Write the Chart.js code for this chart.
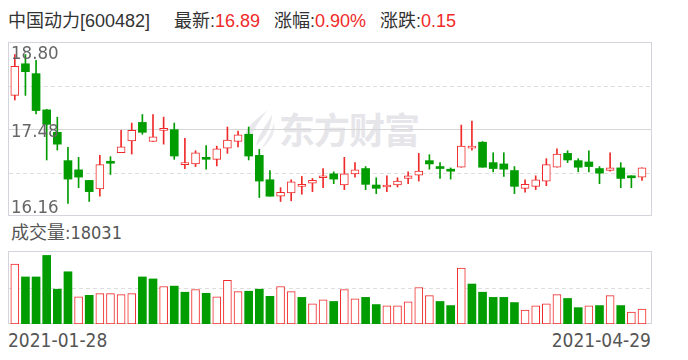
<!DOCTYPE html>
<html><head><meta charset="utf-8">
<script src="https://cdn.jsdelivr.net/npm/chart.js@4.4.1/dist/chart.umd.min.js"></script>
<style>
html,body{margin:0;padding:0;background:#fff;width:688px;height:360px;overflow:hidden;}
#wrap{position:relative;width:688px;height:360px;}
.abs{position:absolute;white-space:nowrap;}
.t{top:9px;line-height:24px;font-size:18px;font-family:"Liberation Sans","Noto Sans CJK SC",sans-serif;color:#333;}
.red{color:#f02a2a;}
#wm{left:279px;top:109px;line-height:38px;font-size:36px;font-weight:bold;font-family:"Noto Sans CJK SC",sans-serif;color:#e6e6ea;letter-spacing:-1px;}
#logo{left:238px;top:108px;}
#vol{left:11px;top:222px;line-height:22px;font-size:18px;font-family:"DejaVu Sans Condensed","DejaVu Sans","Noto Sans CJK SC",sans-serif;font-stretch:condensed;color:#555;}
.date{top:329px;line-height:22px;font-size:19px;font-family:"DejaVu Sans Condensed","DejaVu Sans",sans-serif;font-stretch:condensed;color:#555;}
canvas{position:absolute;left:0;}
</style></head>
<body><div id="wrap">
<svg class="abs" id="logo" width="40" height="42" viewBox="0 0 40 42">
  <path d="M30 2 C22 8 8 18 6 30 C5 36 8 40 12 40 C10 30 18 16 30 2 Z" fill="#e8e8ec"/>
  <path d="M34 6 C30 16 20 26 18 38 C24 32 34 22 34 6 Z" fill="#e8e8ec"/>
  <path d="M36 14 C34 24 28 32 24 40 C32 34 38 26 36 14 Z" fill="#ececf0"/>
</svg>
<div class="abs" id="wm">东方财富</div>
<div class="abs t" style="left:8px" id="name"></div>
<div class="abs t" style="left:174px">最新:<span class="red" id="last"></span></div>
<div class="abs t" style="left:274px">涨幅:<span class="red" id="pct"></span></div>
<div class="abs t" style="left:380px">涨跌:<span class="red" id="chg"></span></div>
<div class="abs" id="vol"></div>
<div class="abs date" id="d0" style="left:8px"></div>
<div class="abs date" id="d1" style="right:37px"></div>
<canvas id="pc" width="688" height="222" style="top:0"></canvas>
<canvas id="vc" width="688" height="90" style="top:240px"></canvas>
</div>
<script>
const stockName = "中国动力";
const stockCode = "600482";
const dates = ["2021-01-28","2021-01-29","2021-02-01","2021-02-02","2021-02-03","2021-02-04","2021-02-05","2021-02-08","2021-02-09","2021-02-10",
"2021-02-18","2021-02-19","2021-02-22","2021-02-23","2021-02-24","2021-02-25","2021-02-26","2021-03-01","2021-03-02","2021-03-03",
"2021-03-04","2021-03-05","2021-03-08","2021-03-09","2021-03-10","2021-03-11","2021-03-12","2021-03-15","2021-03-16","2021-03-17",
"2021-03-18","2021-03-19","2021-03-22","2021-03-23","2021-03-24","2021-03-25","2021-03-26","2021-03-29","2021-03-30","2021-03-31",
"2021-04-01","2021-04-02","2021-04-06","2021-04-07","2021-04-08","2021-04-09","2021-04-12","2021-04-13","2021-04-14","2021-04-15",
"2021-04-16","2021-04-19","2021-04-20","2021-04-21","2021-04-22","2021-04-23","2021-04-26","2021-04-27","2021-04-28","2021-04-29"];
const openP  = [17.99,18.47,18.32,17.77,17.43,17.00,16.86,16.70,16.57,16.97,17.12,17.30,17.58,17.29,17.46,17.47,16.94,16.95,17.05,17.02,
17.19,17.29,17.40,17.08,16.71,16.46,16.51,16.61,16.66,16.74,16.80,16.63,16.80,16.88,16.63,16.60,16.63,16.73,16.78,17.00,
16.89,16.85,16.90,17.19,17.28,16.97,16.95,16.85,16.58,16.61,16.69,16.90,17.11,17.00,16.98,16.88,16.85,16.89,16.75,16.75];
const highP  = [18.61,18.61,18.52,17.78,17.66,17.20,17.05,16.70,17.08,17.06,17.46,17.57,17.70,17.70,17.66,17.57,17.34,17.15,17.23,17.22,
17.51,17.45,17.51,17.17,16.85,16.59,16.71,16.76,16.73,16.88,16.83,17.05,16.97,16.91,16.74,16.77,16.74,16.83,17.11,17.09,
16.97,16.89,17.54,17.60,17.29,17.12,17.12,16.91,16.71,16.77,17.03,17.18,17.15,17.03,17.15,16.91,17.12,16.97,16.77,16.89];
const lowP   = [17.92,17.99,17.71,17.01,17.16,16.35,16.59,16.38,16.46,16.79,17.12,17.10,17.40,17.29,17.25,17.02,16.88,16.91,16.87,16.92,
17.11,17.21,17.01,16.44,16.46,16.38,16.39,16.49,16.53,16.59,16.65,16.56,16.75,16.56,16.50,16.53,16.60,16.65,16.69,16.87,
16.73,16.72,16.90,17.16,16.90,16.83,16.76,16.50,16.52,16.56,16.62,16.90,16.97,16.83,16.83,16.65,16.84,16.59,16.59,16.70];
const closeP = [18.43,18.35,17.76,17.55,17.25,16.72,16.75,16.53,16.94,16.96,17.21,17.46,17.43,17.36,17.47,17.07,16.96,17.12,17.02,17.18,
17.31,17.39,17.07,16.69,16.46,16.52,16.68,16.62,16.70,16.75,16.72,16.80,16.86,16.64,16.58,16.61,16.69,16.77,16.84,16.95,
16.88,16.84,17.22,17.21,16.90,16.88,16.87,16.61,16.64,16.71,16.94,17.10,17.01,16.90,16.91,16.81,16.89,16.73,16.74,16.89];
const volume = [71900,56400,56400,82200,41700,62600,32700,34400,36400,36400,35200,36400,56400,54000,45000,45400,38100,41300,36800,32700,
52300,38900,39300,41700,33200,45000,38900,31900,24200,29100,27000,41300,30300,31900,23300,21700,21700,26600,43800,34000,
27000,22100,67000,47900,38100,31900,31900,25700,16800,21700,24200,35200,30600,19600,21700,22100,34000,22100,14400,18031];
const priceTicks = [16.16, 16.82, 17.48, 18.14, 18.80];
const priceLabels = ["16.16", "17.48", "18.80"];
const volumeMax = 87500;

const RED = '#f02a2a', GREEN = '#009c00';
const idx = dates.map((d, i) => i + 1);
const candleUp = closeP.map((c, i) => c > openP[i] || (c === openP[i] && i > 0 && c >= closeP[i - 1]));
const volUp = closeP.map((c, i) => i === 0 ? c >= openP[i] : c >= closeP[i - 1]);

const n = closeP.length;
const chg = closeP[n - 1] - closeP[n - 2];
document.getElementById('name').textContent = stockName + '[' + stockCode + ']';
document.getElementById('last').textContent = closeP[n - 1].toFixed(2);
document.getElementById('chg').textContent = chg.toFixed(2);
document.getElementById('pct').textContent = (chg / closeP[n - 2] * 100).toFixed(2) + '%';
document.getElementById('vol').textContent = '成交量:' + volume[n - 1];
document.getElementById('d0').textContent = dates[0];
document.getElementById('d1').textContent = dates[n - 1];

const xScale = () => ({ type: 'linear', min: 0.36, max: 60.94, offset: false, display: false, grid: { offset: false } });

function hline(ctx, a, py, dashed, color) {
  ctx.beginPath();
  ctx.setLineDash(dashed ? [4, 3] : []);
  ctx.strokeStyle = color;
  ctx.lineWidth = 1;
  const yy = Math.round(py) + 0.5;
  ctx.moveTo(a.left + 1, yy); ctx.lineTo(a.right - 1, yy);
  ctx.stroke();
}
const pricePanel = {
  id: 'pricePanel',
  beforeDatasetsDraw(chart) {
    const { ctx, chartArea: a, scales: { y } } = chart;
    ctx.save();
    priceTicks.slice(1, -1).forEach(v => {
      const solid = priceLabels.includes(v.toFixed(2));
      hline(ctx, a, y.getPixelForValue(v), !solid, solid ? '#d6d6d6' : '#dedede');
    });
    ctx.setLineDash([]);
    ctx.strokeStyle = '#d4d4dc';
    ctx.strokeRect(a.left + 0.5, a.top + 0.5, a.width - 1, a.height - 1);
    ctx.restore();
  },
  afterDatasetsDraw(chart) {
    const { ctx, chartArea: a, scales: { y } } = chart;
    ctx.save();
    ctx.font = '18.5px "DejaVu Sans Condensed", "DejaVu Sans", sans-serif';
    ctx.fillStyle = '#666';
    ctx.textAlign = 'left';
    ctx.textBaseline = 'alphabetic';
    priceLabels.forEach(t => {
      const v = parseFloat(t);
      let py = y.getPixelForValue(v);
      if (v === y.max) py += 17;
      else if (v === y.min) py -= 3;
      else py += 7.5;
      ctx.fillText(t, a.left + 3, py);
    });
    ctx.restore();
  }
};
const volPanel = {
  id: 'volPanel',
  beforeDatasetsDraw(chart) {
    const { ctx, chartArea: a, scales: { y } } = chart;
    ctx.save();
    hline(ctx, a, y.getPixelForValue(volumeMax / 2), true, '#dedede');
    ctx.setLineDash([]);
    ctx.strokeStyle = '#d4d4dc';
    ctx.strokeRect(a.left + 0.5, a.top + 0.5, a.width - 1, a.height - 1);
    ctx.restore();
  }
};

const common = {
  responsive: false, animation: false, events: [],
  plugins: { legend: { display: false }, tooltip: { enabled: false } }
};

new Chart(document.getElementById('pc'), {
  type: 'bar',
  data: {
    datasets: [
      {
        order: 0, grouped: false, barThickness: 8, minBarLength: 2, borderSkipped: false,
        data: idx.map((x, i) => ({ x, y: [openP[i], closeP[i]] })),
        backgroundColor: candleUp.map(u => u ? '#ffffff' : GREEN),
        borderColor: candleUp.map(u => u ? RED : GREEN),
        borderWidth: candleUp.map(u => u ? 1 : 0)
      },
      {
        order: 1, grouped: false, barThickness: 1, borderWidth: 0,
        data: idx.map((x, i) => ({ x, y: [lowP[i], highP[i]] })),
        backgroundColor: candleUp.map(u => u ? RED : GREEN)
      }
    ]
  },
  options: Object.assign({}, common, {
    layout: { padding: { left: 8, right: 36, top: 42, bottom: 6 } },
    scales: {
      x: xScale(),
      y: { type: 'linear', min: priceTicks[0], max: priceTicks[priceTicks.length - 1], display: false }
    }
  }),
  plugins: [pricePanel]
});

new Chart(document.getElementById('vc'), {
  type: 'bar',
  data: {
    datasets: [{
      grouped: false, barThickness: 8, borderSkipped: false,
      data: idx.map((x, i) => ({ x, y: volume[i] })),
      backgroundColor: volUp.map(u => u ? '#ffffff' : GREEN),
      borderColor: volUp.map(u => u ? RED : GREEN),
      borderWidth: volUp.map(u => u ? 1 : 0)
    }]
  },
  options: Object.assign({}, common, {
    layout: { padding: { left: 8, right: 36, top: 11, bottom: 6 } },
    scales: {
      x: xScale(),
      y: { type: 'linear', min: 0, max: volumeMax, display: false }
    }
  }),
  plugins: [volPanel]
});
</script>
</body></html>
